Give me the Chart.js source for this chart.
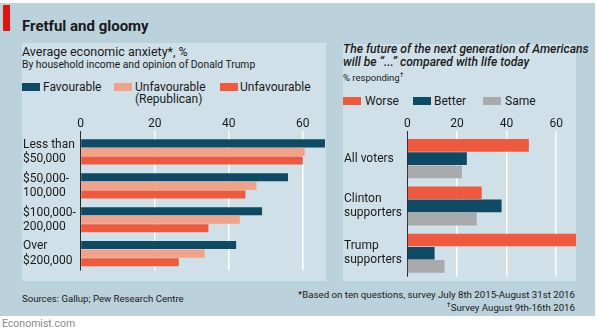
<!DOCTYPE html>
<html>
<head>
<meta charset="utf-8">
<script src="https://cdn.jsdelivr.net/npm/chart.js@4"></script>
<style>
  body { margin: 0; width: 597px; height: 332px; background: #fff; font-family: Roboto, sans-serif; color: #1a1a1a; position: relative; overflow: hidden; }
  .abs { position: absolute; white-space: nowrap; }
  #outer { left: 0; top: 3px; width: 595px; height: 313px; background: #bbd1dc; }
  #redbar { left: 3px; top: 5px; width: 7px; height: 26px; background: #e3120b; }
  .panel { position: absolute; background: #cfe0e8; overflow: hidden; }
  #panelL { left: 22px; top: 43px; width: 304px; height: 238px; }
  #panelR { left: 343px; top: 44px; width: 233px; height: 237px; }
  .panel canvas { position: absolute; left: 0; }
  .box { position: absolute; width: 18px; height: 8px; }
  .leg { font-size: 12px; line-height: 12px; }
</style>
</head>
<body>
<div class="abs" id="outer"></div>
<div class="abs" id="redbar"></div>
<div class="panel" id="panelL"><canvas id="chartL" width="303" height="173" style="top:69px"></canvas></div>
<div class="panel" id="panelR"><canvas id="chartR" width="233" height="172" style="top:68px"></canvas></div>

<div class="abs" style="left:22px;top:17px;font-size:15px;font-weight:700;">Fretful and gloomy</div>
<div class="abs" style="left:22px;top:44px;font-size:12.5px;">Average economic anxiety*, %</div>
<div class="abs" style="left:22px;top:58px;font-size:10.3px;">By household income and opinion of Donald Trump</div>

<div class="abs" style="left:343px;top:43px;font-size:12.1px;font-style:italic;font-weight:500;line-height:13px;">The future of the next generation of Americans<br>will be “...” compared with life today</div>
<div class="abs" style="left:343px;top:71px;font-size:9.5px;">% responding<sup style="font-size:7px">†</sup></div>

<div id="legendL"></div>
<div id="legendR"></div>

<div class="abs" style="left:22px;top:293px;font-size:9.6px;">Sources: Gallup; Pew Research Centre</div>
<div class="abs" style="right:22px;top:289px;font-size:9.7px;line-height:11px;text-align:right;">*Based on ten questions, survey July 8th 2015-August 31st 2016<br><sup style="font-size:7px">†</sup>Survey August 9th-16th 2016</div>
<div class="abs" style="left:2px;top:317px;font-size:10.5px;color:#8a8a8a;">Economist.com</div>

<script>
// left panel: economic anxiety by income
const incomeGroups = [['Less than', '$50,000'], ['$50,000-', '100,000'], ['$100,000-', '200,000'], ['Over', '$200,000']];
const anxietySeries = [['Favourable'], ['Unfavourable', '(Republican)'], ['Unfavourable']];
const favourable = [66, 56, 49, 42];
const unfavRepublican = [60.5, 47.5, 43, 33.5];
const unfavourable = [60, 44.5, 34.5, 26.5];
const anxietyTicks = [0, 20, 40, 60];

// right panel: next generation
const voterGroups = [['All voters'], ['Clinton', 'supporters'], ['Trump', 'supporters']];
const futureSeries = ['Worse', 'Better', 'Same'];
const worse = [49, 30, 68];
const better = [24, 38, 11];
const same = [22, 28, 15];
const futureTicks = [0, 20, 40, 60];

const navy = '#0e4a63', salmon = '#f0a389', red = '#ef5a3f', grey = '#a9aaac';

function legend(id, items, colors, boxXs, textXs, top) {
    const el = document.getElementById(id);
    items.forEach((lbl, i) => {
        const lines = Array.isArray(lbl) ? lbl : [lbl];
        el.insertAdjacentHTML('beforeend',
            `<div class="box" style="left:${boxXs[i]}px;top:${top}px;background:${colors[i]}"></div>` +
            `<div class="abs leg" style="left:${textXs[i]}px;top:${top - 2}px">${lines.join('<br>')}</div>`);
    });
}
legend('legendL', anxietySeries, [navy, salmon, red], [22, 114, 220], [43, 135, 240], 83);
legend('legendR', futureSeries, [red, navy, grey], [343, 413, 483], [365, 434, 505], 97);

function makeChart(id, labels, datasets, max, ticks, axisW, catPct, barPct) {
    return new Chart(document.getElementById(id), {
        type: 'bar',
        data: { labels, datasets },
        options: {
            indexAxis: 'y',
            responsive: false,
            animation: false,
            layout: { padding: { left: 1, right: 0, top: 0, bottom: 0 } },
            datasets: { bar: { categoryPercentage: catPct, barPercentage: barPct } },
            plugins: { legend: { display: false }, tooltip: { enabled: false } },
            scales: {
                x: {
                    position: 'top',
                    min: 0, max: max,
                    afterBuildTicks: s => { s.ticks = ticks.map(v => ({ value: v })); },
                    afterFit: s => { s.height = 23; },
                    border: { display: false },
                    grid: {
                        drawTicks: true, tickLength: 4,
                        color: c => c.tick && c.tick.value === 0 ? '#2a2a2a' : '#ffffff',
                        lineWidth: c => c.tick && c.tick.value === 0 ? 1 : 1.5
                    },
                    ticks: { padding: 0, color: '#1a1a1a', font: { family: 'Roboto', size: 12 } }
                },
                y: {
                    afterFit: s => { s.width = axisW; },
                    border: { display: false },
                    grid: { display: false, drawTicks: false },
                    ticks: { crossAlign: 'far', padding: 0, color: '#1a1a1a', font: { family: 'Roboto', size: 12, lineHeight: 1.2 } }
                }
            }
        }
    });
}

makeChart('chartL', incomeGroups, [
    { label: 'Favourable', data: favourable, backgroundColor: navy },
    { label: 'Unfavourable (Republican)', data: unfavRepublican, backgroundColor: salmon },
    { label: 'Unfavourable', data: unfavourable, backgroundColor: red }
], 66, anxietyTicks, 57.7, 0.76, 0.94);

makeChart('chartR', voterGroups, [
    { label: 'Worse', data: worse, backgroundColor: red },
    { label: 'Better', data: better, backgroundColor: navy },
    { label: 'Same', data: same, backgroundColor: grey }
], 68, futureTicks, 63.3, 0.84, 0.95);
</script>
</body>
</html>
